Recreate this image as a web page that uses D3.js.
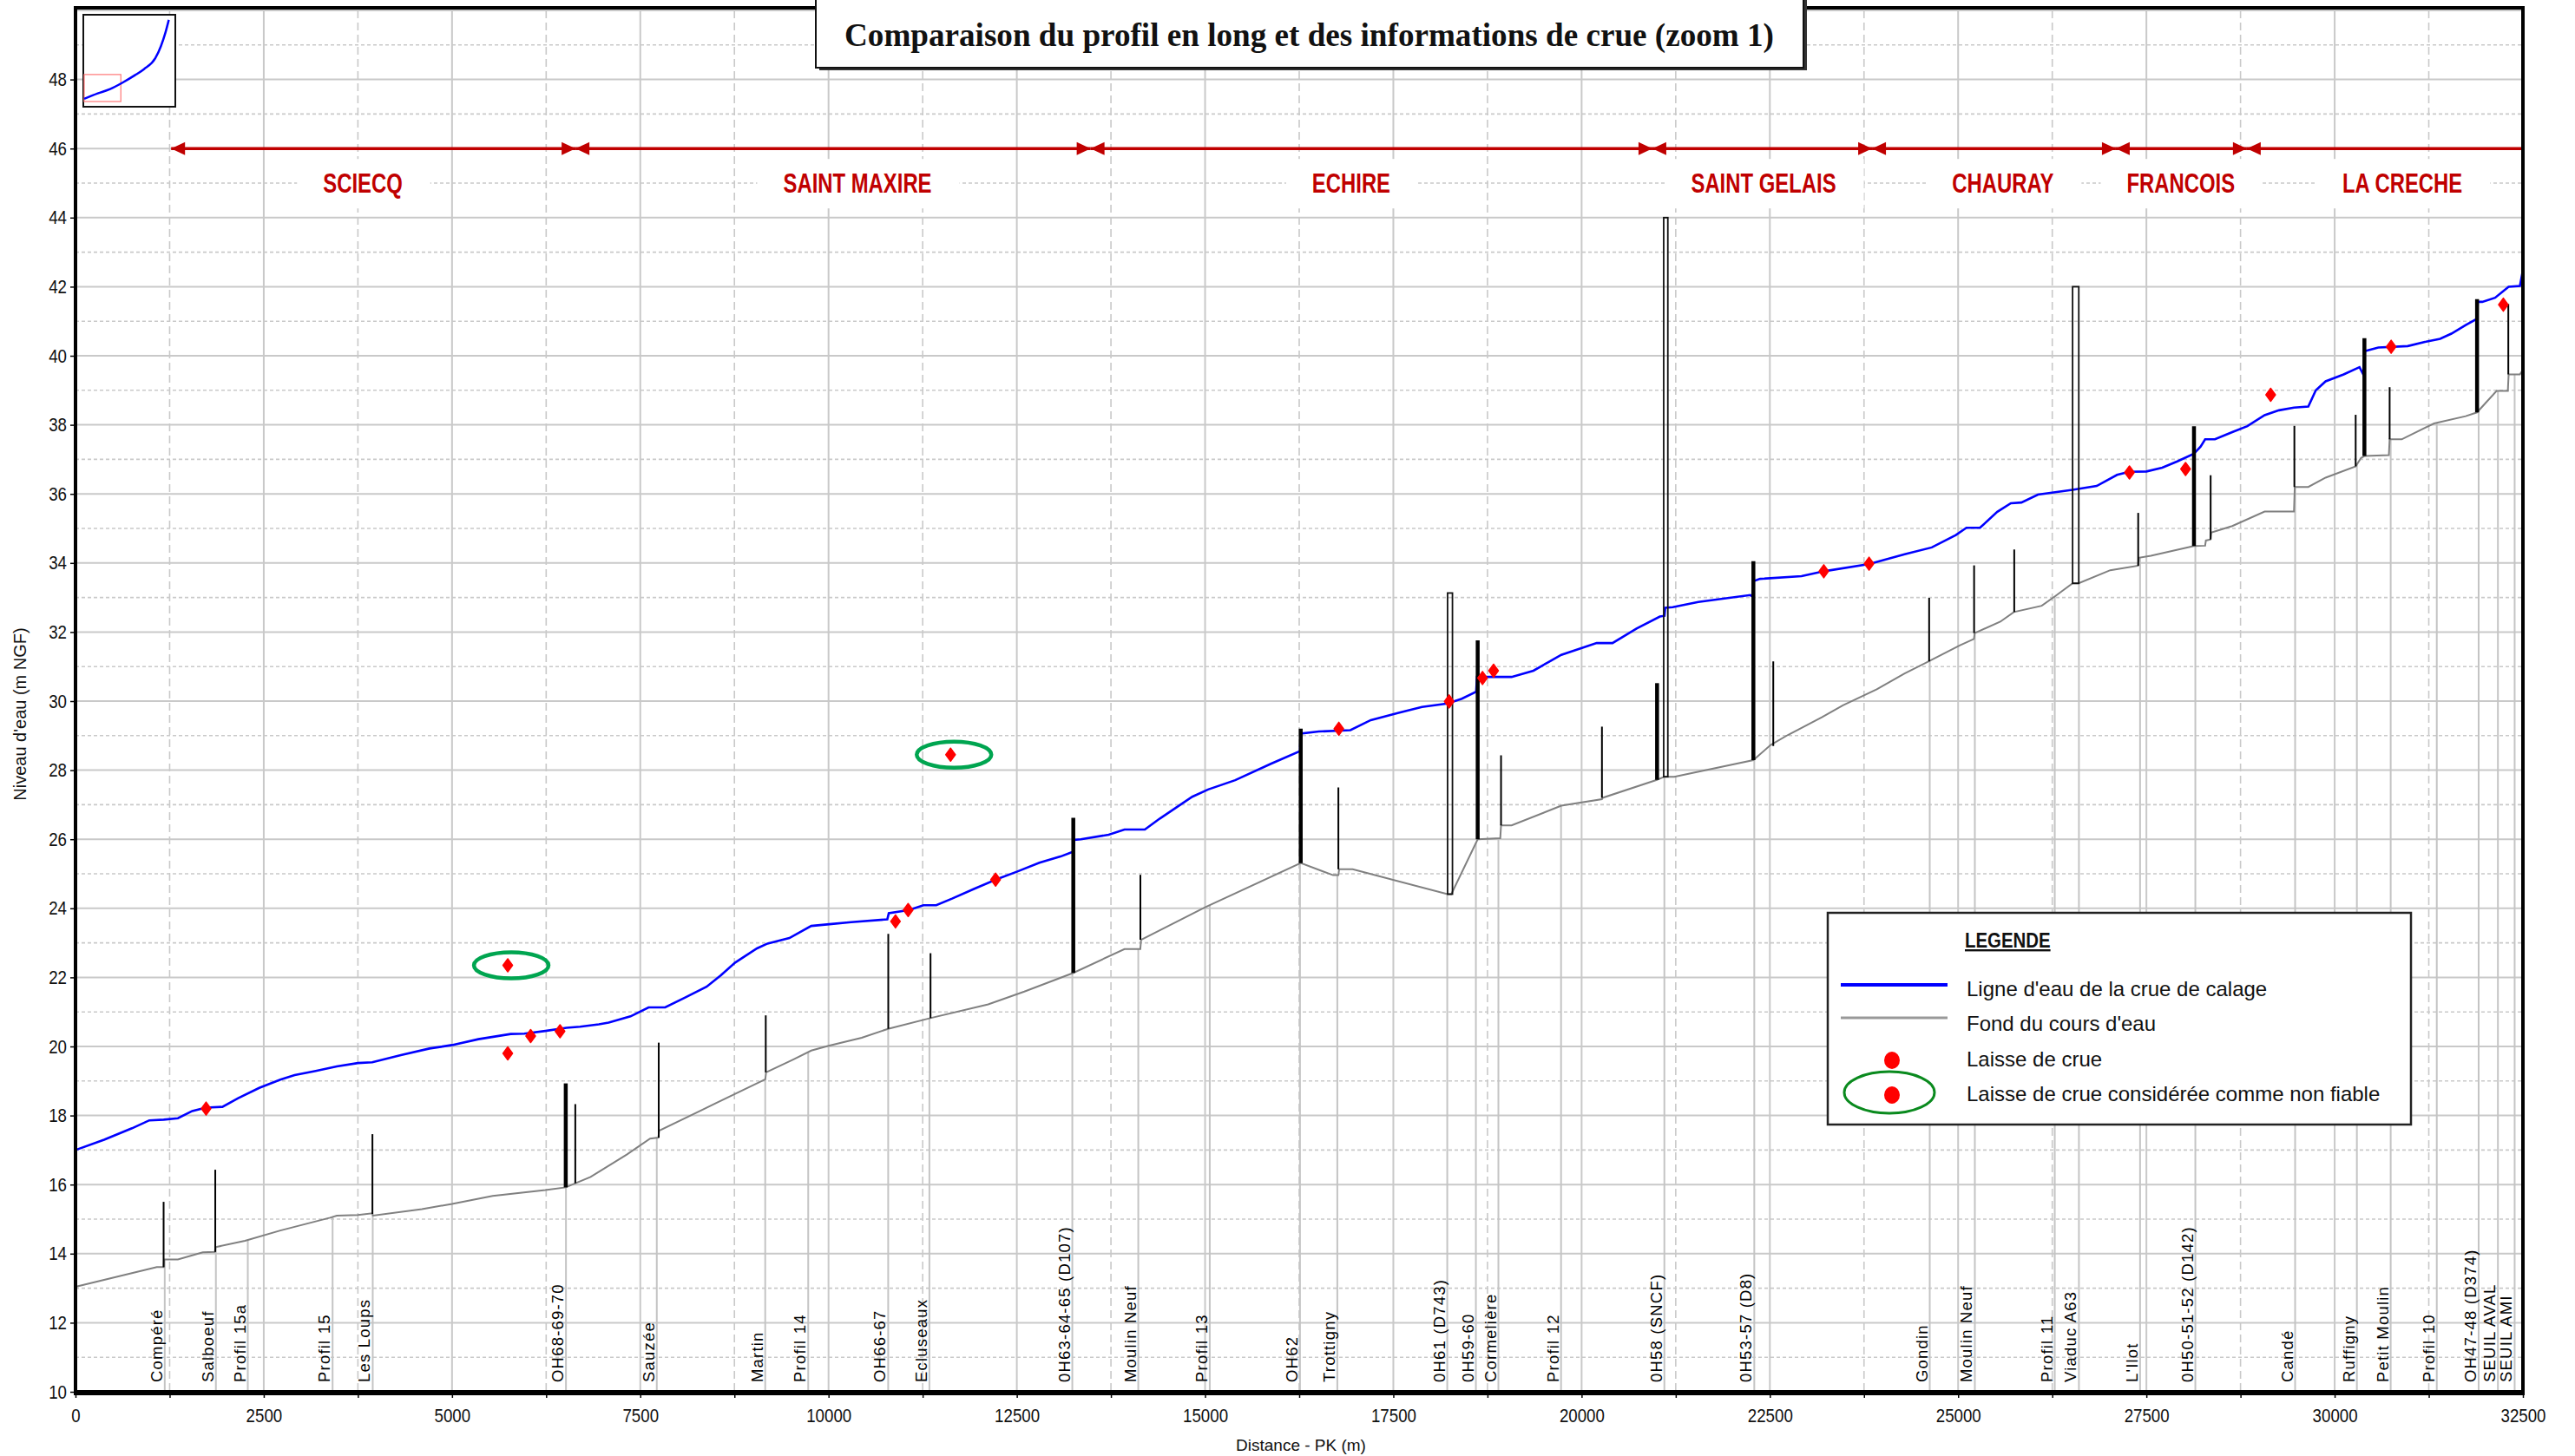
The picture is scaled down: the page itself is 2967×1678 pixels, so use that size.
<!DOCTYPE html>
<html>
<head>
<meta charset="utf-8">
<script src="https://cdn.jsdelivr.net/npm/d3@7"></script>
<style>
  body { margin: 0; background: #fff; }
  svg { display: block; }
</style>
</head>
<body>
<svg id="chart" width="2967" height="1678"></svg>
<script>
// ligne d'eau de la crue de calage : [PK (m), cote (m NGF)]
const waterLine = [
  [0,17.0],[380,17.3],[750,17.63],[980,17.86],[1170,17.88],[1360,17.92],[1550,18.13],[1730,18.23],
  [1950,18.25],[2160,18.5],[2440,18.8],[2720,19.04],[2910,19.17],[3190,19.29],[3470,19.42],[3750,19.52],
  [3940,19.54],[4320,19.75],[4700,19.94],[5000,20.04],[5350,20.21],[5780,20.36],[5960,20.37],[6240,20.45],
  [6520,20.54],[6700,20.57],[6950,20.64],[7080,20.69],[7370,20.87],[7610,21.13],[7830,21.13],[8090,21.41],
  [8380,21.73],[8570,22.06],[8760,22.43],[9050,22.84],[9190,22.98],[9480,23.14],[9770,23.49],[10010,23.54],
  [10300,23.6],[10780,23.68],[10800,23.86],[11070,23.95],[11260,24.09],[11430,24.09],[11640,24.28],[11930,24.56],
  [12220,24.83],[12500,25.06],[12800,25.32],[13080,25.5],[13250,25.64],[13260,25.98],[13350,26.0],[13720,26.13],
  [13930,26.28],[14200,26.28],[14400,26.6],[14830,27.23],[15040,27.44],[15400,27.71],[15880,28.19],[16260,28.55],
  [16270,29.06],[16510,29.12],[16930,29.16],[17200,29.45],[17570,29.66],[17880,29.83],[18220,29.93],[18410,30.07],
  [18600,30.27],[18610,30.7],[19070,30.7],[19360,30.88],[19730,31.34],[20200,31.68],[20410,31.68],[20730,32.1],
  [21040,32.45],[21100,32.47],[21110,32.7],[21210,32.72],[21550,32.87],[22240,33.07],[22270,33.02],[22280,33.47],
  [22370,33.54],[22920,33.62],[23220,33.76],[23820,33.97],[24290,34.25],[24650,34.45],[24970,34.81],[25110,35.02],
  [25290,35.02],[25520,35.48],[25700,35.73],[25840,35.75],[26060,35.98],[26520,36.12],[26840,36.23],[27110,36.55],
  [27270,36.64],[27500,36.65],[27710,36.76],[27910,36.94],[28130,37.16],[28220,37.37],[28280,37.58],[28410,37.58],
  [28640,37.79],[28840,37.96],[29070,38.28],[29260,38.42],[29460,38.5],[29650,38.53],[29750,39.0],[29880,39.26],
  [30120,39.46],[30330,39.67],[30380,39.46],[30400,40.13],[30430,40.15],[30580,40.24],[30970,40.28],[31200,40.4],
  [31400,40.49],[31550,40.64],[31740,40.89],[31890,41.07],[31900,41.56],[31960,41.56],[32130,41.68],[32310,42.0],
  [32460,42.02],[32500,42.48]
];

// fond du cours d'eau
const bedLine = [
  [0,13.04],[1080,13.61],[1170,13.61],[1175,13.83],[1360,13.83],[1690,14.04],[1850,14.05],[1860,14.19],
  [2250,14.37],[2720,14.67],[3380,15.04],[3470,15.1],[3750,15.12],[3940,15.17],[3950,15.1],[4600,15.29],
  [5000,15.44],[5540,15.67],[6240,15.84],[6510,15.92],[6640,16.04],[6840,16.22],[7320,16.87],[7630,17.33],
  [7740,17.36],[7750,17.56],[8280,18.12],[8760,18.63],[9160,19.05],[9170,19.25],[9530,19.62],[9770,19.88],
  [10000,20.02],[10440,20.25],[10790,20.51],[11350,20.82],[12120,21.22],[12600,21.59],[13250,22.13],[13930,22.82],
  [14140,22.82],[14150,23.09],[15000,24.03],[16270,25.31],[16700,24.96],[16770,24.96],[16780,25.13],[16960,25.13],
  [18220,24.41],[18270,24.41],[18620,26.0],[18920,26.03],[18930,26.4],[19070,26.4],[19730,26.97],[20270,27.16],
  [20280,27.2],[21000,27.72],[21100,27.81],[21230,27.81],[22280,28.29],[22510,28.73],[22740,29.02],[23190,29.53],
  [23470,29.88],[23920,30.34],[24290,30.8],[24610,31.15],[25020,31.61],[25210,31.8],[25220,31.97],[25560,32.3],
  [25740,32.58],[26110,32.76],[26290,33.04],[26520,33.41],[26600,33.41],[27020,33.79],[27390,33.92],[27400,34.15],
  [27560,34.21],[28130,34.49],[28280,34.5],[28290,34.65],[28350,34.68],[28360,34.88],[28640,35.07],[29070,35.49],
  [29460,35.49],[29470,36.2],[29650,36.2],[29880,36.47],[30280,36.8],[30350,37.04],[30400,37.1],[30720,37.12],
  [30730,37.58],[30890,37.58],[31320,38.04],[31740,38.25],[31890,38.36],[32150,38.98],[32300,38.98],[32310,39.46],
  [32460,39.46],[32500,39.6]
];

// laisses de crue : [PK, cote, fiable]
const floodMarks = [
  [1734,18.2,true],[5740,22.35,false],[5740,19.8,true],[6044,20.3,true],[6434,20.44,true],
  [10889,23.62,true],[11057,23.95,true],[11620,28.45,false],[12218,24.83,true],[16776,29.2,true],
  [18241,29.99,true],[18684,30.67,true],[18831,30.88,true],[23216,33.76,true],[23817,33.98,true],
  [27275,36.62,true],[28020,36.72,true],[29150,38.87,true],[30750,40.26,true],[32240,41.48,true]
];

// ouvrages : [PK, cote basse, cote haute, type]
const ouvrages = [
  [1170,13.61,15.5,"seuil"],[1856,14.05,16.43,"seuil"],[3943,15.15,17.46,"seuil"],[6510,15.92,18.93,"pont"],
  [6637,16.04,18.33,"seuil"],[7745,17.36,20.11,"seuil"],[9166,19.25,20.9,"seuil"],[10793,20.51,23.26,"seuil"],
  [11354,20.82,22.7,"seuil"],[13250,22.13,26.62,"pont"],[14141,23.09,24.97,"seuil"],[16270,25.31,29.2,"pont"],
  [16770,25.13,27.5,"seuil"],[18620,26.0,31.76,"pont"],[18930,26.4,28.43,"seuil"],[20270,27.2,29.26,"seuil"],
  [21002,27.72,30.52,"pont"],[22281,28.29,34.05,"pont"],[22545,28.7,31.15,"seuil"],[24615,31.15,32.99,"seuil"],
  [25212,31.97,33.93,"seuil"],[25745,32.58,34.39,"seuil"],[27391,33.92,35.45,"seuil"],[28132,34.49,37.96,"pont"],
  [28353,34.68,36.54,"seuil"],[29465,36.2,37.97,"seuil"],[30279,36.8,38.29,"seuil"],[30395,37.1,40.51,"pont"],
  [30730,37.58,39.09,"seuil"],[31891,38.36,41.64,"pont"],[32306,39.46,41.5,"seuil"]
];

// grands ouvrages (cadres) : [PK début, PK fin, cote basse, cote haute]
const cadres = [
  [18220,18285,24.41,33.13],
  [21090,21145,27.81,44.0],
  [26520,26602,33.41,42.0]
];

// profils nommés : [PK, nom]
const profils = [
  [1185,"Compéré"],[1864,"Salboeuf"],[2288,"Profil 15a"],[3414,"Profil 15"],[3947,"Les Loups"],
  [6513,"OH68-69-70"],[7719,"Sauzée"],[9159,"Martin"],[9730,"Profil 14"],[10792,"OH66-67"],
  [11339,"Ecluseaux"],[13237,"0H63-64-65 (D107)"],[14113,"Moulin Neuf"],[15062,"Profil 13"],[16260,"OH62"],
  [16756,"Trottigny"],[18216,"0H61 (D743)"],[18596,"0H59-60"],[18895,"Cormelière"],[19727,"Profil 12"],
  [21099,"0H58 (SNCF)"],[22293,"0H53-57 (D8)"],[24623,"Gondin"],[25222,"Moulin Neuf"],[26283,"Profil 11"],
  [26604,"Viaduc A63"],[27416,"L'Ilot"],[28150,"0H50-51-52 (D142)"],[29475,"Candé"],[30295,"Ruffigny"],
  [30744,"Petit Moulin"],[31356,"Profil 10"],[31912,"OH47-48 (D374)"],[32168,"SEUIL AVAL"],[32390,"SEUIL AMI"]
];

// communes traversées, limites (PK) et PK de l'étiquette
const communes = ["SCIECQ","SAINT MAXIRE","ECHIRE","SAINT GELAIS","CHAURAY","FRANCOIS","LA CRECHE"];
const communeLimits = [1270, 6640, 13480, 20940, 23857, 27094, 28834, 32500];
const communeLabelPk = [3815, 10384, 16941, 22416, 25594, 27957, 30899];
const communeLevel = 46;

// vignette : profil complet [PK (km), cote]
const overview = [
  [0,14],[12,22],[23,28.5],[34,38],[45,49],[53,58],[63,74],[68,92],[72,112],[75,131]
];

const xTicks = d3.range(0, 32501, 2500);
const yTicks = d3.range(10, 49, 2);

const legendItems = [
  "Ligne d'eau de la crue de calage",
  "Fond du cours d'eau",
  "Laisse de crue",
  "Laisse de crue considérée comme non fiable"
];

const titleText = "Comparaison du profil en long et des informations de crue (zoom 1)";

// ---------------------------------------------------------------
const svg = d3.select("#chart");
const x = d3.scaleLinear().domain([0, 32500]).range([87, 2907]);
const y = d3.scaleLinear().domain([10, 50]).range([1604, 12]);

const sans = "'Liberation Sans', Arial, sans-serif";
const gridColor = "#c9c9c9";

// texte condensé (pas de police étroite installée)
function condense(sel, k) {
  sel.each(function () {
    const w = this.getComputedTextLength();
    d3.select(this).attr("textLength", w * k).attr("lengthAdjust", "spacingAndGlyphs");
  });
}

// grille
const grid = svg.append("g");
grid.selectAll(".hmaj").data(d3.range(10, 51, 2)).enter().append("line")
  .attr("x1", x(0)).attr("x2", x(32500))
  .attr("y1", d => y(d)).attr("y2", d => y(d))
  .attr("stroke", gridColor).attr("stroke-width", 2);
grid.selectAll(".hmin").data(d3.range(11, 50, 2)).enter().append("line")
  .attr("x1", x(0)).attr("x2", x(32500))
  .attr("y1", d => y(d)).attr("y2", d => y(d))
  .attr("stroke", gridColor).attr("stroke-width", 1.6).attr("stroke-dasharray", "4,3");
grid.selectAll(".vmaj").data(xTicks).enter().append("line")
  .attr("x1", d => x(d)).attr("x2", d => x(d))
  .attr("y1", y(50)).attr("y2", y(10))
  .attr("stroke", gridColor).attr("stroke-width", 2);
grid.selectAll(".vmin").data(d3.range(1250, 32500, 2500)).enter().append("line")
  .attr("x1", d => x(d)).attr("x2", d => x(d))
  .attr("y1", y(50)).attr("y2", y(10))
  .attr("stroke", gridColor).attr("stroke-width", 1.6).attr("stroke-dasharray", "9,5");

// interpolation du fond
const bisect = d3.bisector(d => d[0]).left;
function bedAt(pk) {
  const i = Math.max(1, Math.min(bedLine.length - 1, bisect(bedLine, pk)));
  const a = bedLine[i - 1], b = bedLine[i];
  return a[1] + (b[1] - a[1]) * (pk - a[0]) / (b[0] - a[0]);
}

// lignes des profils nommés
svg.append("g").selectAll("line").data(profils).enter().append("line")
  .attr("x1", d => x(d[0])).attr("x2", d => x(d[0]))
  .attr("y1", d => y(bedAt(d[0]))).attr("y2", y(10))
  .attr("stroke", "#c4c4c4").attr("stroke-width", 2);

svg.append("g").selectAll("text").data(profils).enter().append("text")
  .attr("transform", d => `translate(${x(d[0]) - 3},${y(10) - 11}) rotate(-90)`)
  .attr("font-family", sans).attr("font-size", 18.5).attr("letter-spacing", 1.2)
  .attr("fill", "#000").text(d => d[1]);

// bandeau des communes
const band = svg.append("g");
const red = "#c00000";
const segs = communes.map((c, i) => ({
  name: c, a: communeLimits[i], b: communeLimits[i + 1], at: communeLabelPk[i],
  last: i === communes.length - 1
}));
segs.forEach(s => {
  const g = band.append("g");
  const cx = x(s.at);
  const bg = g.append("rect").attr("fill", "#fff");
  const t = g.append("text")
    .attr("x", cx).attr("y", y(45) + 11)
    .attr("text-anchor", "middle")
    .attr("font-family", sans).attr("font-weight", "bold").attr("font-size", 31)
    .attr("fill", red).text(s.name);
  const w = t.node().getComputedTextLength() * 0.77;
  condense(t, 0.77);
  bg.attr("x", cx - w / 2 - 30).attr("width", w + 62)
    .attr("y", y(46) + 12).attr("height", 57);
});
const yc = y(communeLevel);
band.selectAll(".seg").data(segs).enter().append("line")
  .attr("x1", d => x(d.a)).attr("x2", d => x(d.b))
  .attr("y1", yc).attr("y2", yc)
  .attr("stroke", red).attr("stroke-width", 3.5);
band.selectAll(".hl").data(segs).enter().append("path")
  .attr("d", d => { const t = x(d.a); return `M${t},${yc}L${t + 16},${yc - 7.5}L${t + 16},${yc + 7.5}Z`; })
  .attr("fill", red);
band.selectAll(".hr").data(segs.filter(s => !s.last)).enter().append("path")
  .attr("d", d => { const t = x(d.b); return `M${t},${yc}L${t - 16},${yc - 7.5}L${t - 16},${yc + 7.5}Z`; })
  .attr("fill", red);

// fond du cours d'eau
const line = d3.line().x(d => x(d[0])).y(d => y(d[1]));
svg.append("path").datum(bedLine).attr("d", line)
  .attr("fill", "none").attr("stroke", "#808080").attr("stroke-width", 2);

// ligne d'eau
svg.append("path").datum(waterLine).attr("d", line)
  .attr("fill", "none").attr("stroke", "#0000ff").attr("stroke-width", 2.6);

// ouvrages
svg.append("g").selectAll("line").data(ouvrages).enter().append("line")
  .attr("x1", d => x(d[0])).attr("x2", d => x(d[0]))
  .attr("y1", d => y(d[1])).attr("y2", d => y(d[2]))
  .attr("stroke", "#000").attr("stroke-width", d => d[3] === "pont" ? 4.5 : 2);
svg.append("g").selectAll("rect").data(cadres).enter().append("rect")
  .attr("x", d => x(d[0])).attr("width", d => x(d[1]) - x(d[0]))
  .attr("y", d => y(d[3])).attr("height", d => y(d[2]) - y(d[3]))
  .attr("fill", "none").attr("stroke", "#111").attr("stroke-width", 1.8);

// laisses de crue
const diamond = "M0,-7.5L5.5,0L0,7.5L-5.5,0Z";
svg.append("g").selectAll("path").data(floodMarks).enter().append("path")
  .attr("transform", d => `translate(${x(d[0])},${y(d[1])})`)
  .attr("d", diamond).attr("fill", "#ff0000")
  .attr("stroke", "#ff0000").attr("stroke-width", 1.5).attr("stroke-linejoin", "round");
svg.append("g").selectAll("ellipse").data(floodMarks.filter(d => !d[2])).enter().append("ellipse")
  .attr("cx", d => x(d[0]) + 4).attr("cy", d => y(d[1]))
  .attr("rx", 43).attr("ry", 15)
  .attr("fill", "none").attr("stroke", "#00a550").attr("stroke-width", 4.5);

// axes
const xAxis = svg.append("g").attr("transform", `translate(0,${y(10)})`)
  .call(d3.axisBottom(x).tickValues(xTicks).tickSize(7).tickPadding(12).tickFormat(d3.format("d")));
xAxis.selectAll(".tick line").attr("stroke", "#000").attr("stroke-width", 1.5);
svg.append("g").attr("transform", `translate(0,${y(10)})`)
  .call(d3.axisBottom(x).tickValues(d3.range(1250, 32500, 2500)).tickSize(7).tickFormat(""))
  .call(g => g.select(".domain").remove())
  .selectAll(".tick line").attr("stroke", "#000").attr("stroke-width", 1.5);
xAxis.select(".domain").remove();
xAxis.selectAll("text").attr("font-family", sans).attr("font-size", 22).attr("fill", "#111");
condense(xAxis.selectAll("text"), 0.85);

const yAxis = svg.append("g").attr("transform", `translate(${x(0)},0)`)
  .call(d3.axisLeft(y).tickValues(yTicks).tickSize(6).tickPadding(4).tickFormat(d3.format("d")));
yAxis.select(".domain").remove();
yAxis.selectAll(".tick line").attr("stroke", "#000").attr("stroke-width", 1.5);
yAxis.selectAll("text").attr("font-family", sans).attr("font-size", 22).attr("fill", "#111");
condense(yAxis.selectAll("text"), 0.85);

// cadre du graphique
svg.append("line").attr("x1", x(0)).attr("x2", x(32500)).attr("y1", y(10) + 1).attr("y2", y(10) + 1)
  .attr("stroke", "#000").attr("stroke-width", 6);
svg.append("line").attr("x1", x(0)).attr("x2", x(32500)).attr("y1", y(50) - 3).attr("y2", y(50) - 3)
  .attr("stroke", "#000").attr("stroke-width", 4);
svg.append("line").attr("x1", x(0)).attr("x2", x(0)).attr("y1", y(50) - 5).attr("y2", y(10) + 4)
  .attr("stroke", "#000").attr("stroke-width", 4);
svg.append("line").attr("x1", x(32500)).attr("x2", x(32500)).attr("y1", y(50) - 5).attr("y2", y(10) + 4)
  .attr("stroke", "#000").attr("stroke-width", 4);

// titres des axes
svg.append("text")
  .attr("transform", `translate(30,${(y(10) + y(50)) / 2 + 15}) rotate(-90)`)
  .attr("text-anchor", "middle").attr("font-family", sans).attr("font-size", 20).attr("fill", "#111")
  .text("Niveau d'eau (m NGF)");
svg.append("text")
  .attr("x", (x(0) + x(32500)) / 2 + 2).attr("y", 1672)
  .attr("text-anchor", "middle").attr("font-family", sans).attr("font-size", 19).attr("fill", "#111")
  .text("Distance - PK (m)");

// vignette
const tx = d3.scaleLinear().domain([0, 80]).range([97, 201]);
const ty = d3.scaleLinear().domain([10, 145]).range([117, 12]);
const thumb = svg.append("g");
thumb.append("rect").attr("x", 96).attr("y", 17).attr("width", 106).attr("height", 106)
  .attr("fill", "#fff").attr("stroke", "#111").attr("stroke-width", 2);
thumb.append("rect")
  .attr("x", tx(0)).attr("width", tx(32.5) - tx(0))
  .attr("y", ty(50)).attr("height", ty(10) - ty(50))
  .attr("fill", "none").attr("stroke", "#ff8080").attr("stroke-width", 1.3);
thumb.append("path").datum(overview)
  .attr("d", d3.line().x(d => tx(d[0])).y(d => ty(d[1])).curve(d3.curveMonotoneX))
  .attr("fill", "none").attr("stroke", "#0000ff").attr("stroke-width", 2.5);

// légende
const lg = svg.append("g").attr("transform", "translate(2106,1052)");
lg.append("rect").attr("width", 672).attr("height", 244)
  .attr("fill", "#fff").attr("stroke", "#222").attr("stroke-width", 2.5);
const lgTitle = lg.append("text").attr("x", 158).attr("y", 40)
  .attr("font-family", sans).attr("font-weight", "bold").attr("font-size", 24)
  .attr("text-decoration", "underline").attr("fill", "#111").text("LEGENDE");
condense(lgTitle, 0.85);
const rowY = [96, 136, 177, 217];
lg.selectAll(".item").data(legendItems).enter().append("text")
  .attr("x", 160).attr("y", (d, i) => rowY[i])
  .attr("font-family", sans).attr("font-size", 24).attr("fill", "#111").text(d => d);
lg.append("line").attr("x1", 15).attr("x2", 138).attr("y1", 83).attr("y2", 83)
  .attr("stroke", "#0000ff").attr("stroke-width", 4);
lg.append("line").attr("x1", 15).attr("x2", 138).attr("y1", 121).attr("y2", 121)
  .attr("stroke", "#999").attr("stroke-width", 3);
lg.append("ellipse").attr("cx", 74).attr("cy", 170).attr("rx", 9).attr("ry", 10).attr("fill", "#ff0000");
lg.append("ellipse").attr("cx", 71).attr("cy", 207).attr("rx", 52).attr("ry", 24)
  .attr("fill", "none").attr("stroke", "#0a8a1e").attr("stroke-width", 3);
lg.append("ellipse").attr("cx", 74).attr("cy", 210).attr("rx", 9).attr("ry", 10).attr("fill", "#ff0000");

// titre
const tg = svg.append("g");
tg.append("rect").attr("x", 944).attr("y", -6).attr("width", 1138).attr("height", 87).attr("fill", "#333");
tg.append("rect").attr("x", 940).attr("y", -10).attr("width", 1138).attr("height", 88)
  .attr("fill", "#fff").attr("stroke", "#111").attr("stroke-width", 2);
tg.append("text").attr("x", 973).attr("y", 53)
  .attr("font-family", "'Liberation Serif', 'DejaVu Serif', serif").attr("font-weight", "bold").attr("font-size", 37)
  .attr("textLength", 1071).attr("lengthAdjust", "spacingAndGlyphs")
  .attr("fill", "#111").text(titleText);
</script>
</body>
</html>
